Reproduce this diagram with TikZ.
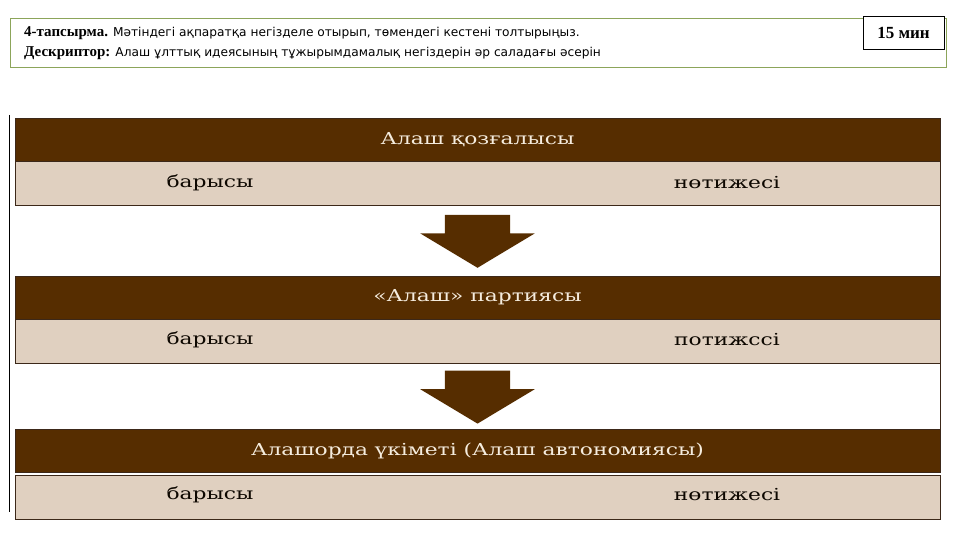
\documentclass[tikz,border=0pt]{standalone}
\usepackage{fontspec}
\usetikzlibrary{positioning,shapes.arrows}
\setmainfont{Liberation Serif}
\newfontfamily\tasksans{DejaVu Sans}
\newfontfamily\tabserif[FakeStretch=1.32]{DejaVu Serif}
\definecolor{alashbrown}{RGB}{86,45,0}
\definecolor{alashbeige}{RGB}{224,208,192}
\definecolor{alashline}{RGB}{60,40,25}
\definecolor{alashcream}{RGB}{245,236,222}
\definecolor{taskgreen}{RGB}{140,165,90}
\begin{document}
\begin{tikzpicture}[x=1pt,y=-1pt,node distance=0pt,
	head row/.style = {rectangle, fill=alashbrown, draw=alashline, minimum width=925pt, minimum height=43pt, inner sep=0pt, text=alashcream, font=\tabserif\fontsize{16.5}{19}\selectfont},
	sub row/.style = {rectangle, fill=alashbeige, draw=alashline, minimum width=925pt, minimum height=44pt, inner sep=0pt},
	sub text/.style = {inner sep=0pt, text=black!85!alashbrown, font=\tabserif\fontsize{16.5}{19}\selectfont},
	down arrow/.style = {single arrow, shape border rotate=270, fill=alashbrown, minimum height=53pt, single arrow head extend=24.5pt, single arrow tip angle=118, inner xsep=32.5pt, inner ysep=0pt, anchor=tail}]
	
	\useasboundingbox (0,0) rectangle (960,540);
	
	% task header
	\node[draw=taskgreen, line width=0.8pt, minimum width=936pt, minimum height=49pt, inner sep=0pt] (task) at (478,42.5) {};
	\node[anchor=base west, inner sep=0pt] (task1) at (24,37) {\fontsize{15}{17}\selectfont\bfseries 4-тапсырма. \tasksans\mdseries\fontsize{12.2}{14}\selectfont Мәтіндегі ақпаратқа негізделе отырып, төмендегі кестені толтырыңыз.};
	\node[anchor=base west, inner sep=0pt] (task2) at (24,57) {\fontsize{15}{17}\selectfont\bfseries Дескриптор: \tasksans\mdseries\fontsize{12.2}{14}\selectfont Алаш ұлттық идеясының тұжырымдамалық негіздерін әр саладағы әсерін};
	\node[draw, line width=0.8pt, fill=white, minimum width=81pt, minimum height=33pt, inner sep=0pt, font=\bfseries\fontsize{17}{20}\selectfont] (time) at (903.5,32.5) {15 мин};
	
	% table
	\draw[line width=1pt] (9.5,115) -- (9.5,512);
	\node[head row] (hdr1) at (477.5,139.5) {Алаш қозғалысы};
	\node[sub row] [below = of hdr1] (sub1) {};
	\node[head row] [below = 70pt of sub1] (hdr2) {«Алаш» партиясы};
	\node[sub row] [below = of hdr2] (sub2) {};
	\node[head row] [below = 66pt of sub2] (hdr3) {Алашорда үкіметі (Алаш автономиясы)};
	\node[sub row] [below = 2pt of hdr3] (sub3) {};
	
	\draw[alashline] (sub1.south east) -- (hdr2.north east);
	\draw[alashline] (sub2.south east) -- (hdr3.north east);
	
	\node[sub text] (bar1) at (210,183) {барысы};
	\node[sub text] (res1) at (727,183) {нөтижесі};
	\node[sub text] (bar2) at (210,340) {барысы};
	\node[sub text] (res2) at (727,340) {потижссі};
	\node[sub text] (bar3) at (210,495) {барысы};
	\node[sub text] (res3) at (727,495) {нөтижесі};
	
	\node[down arrow] (arr1) at ([yshift=-9pt]sub1.south) {};
	\node[down arrow] (arr2) at ([yshift=-7pt]sub2.south) {};
	
\end{tikzpicture}
\end{document}
